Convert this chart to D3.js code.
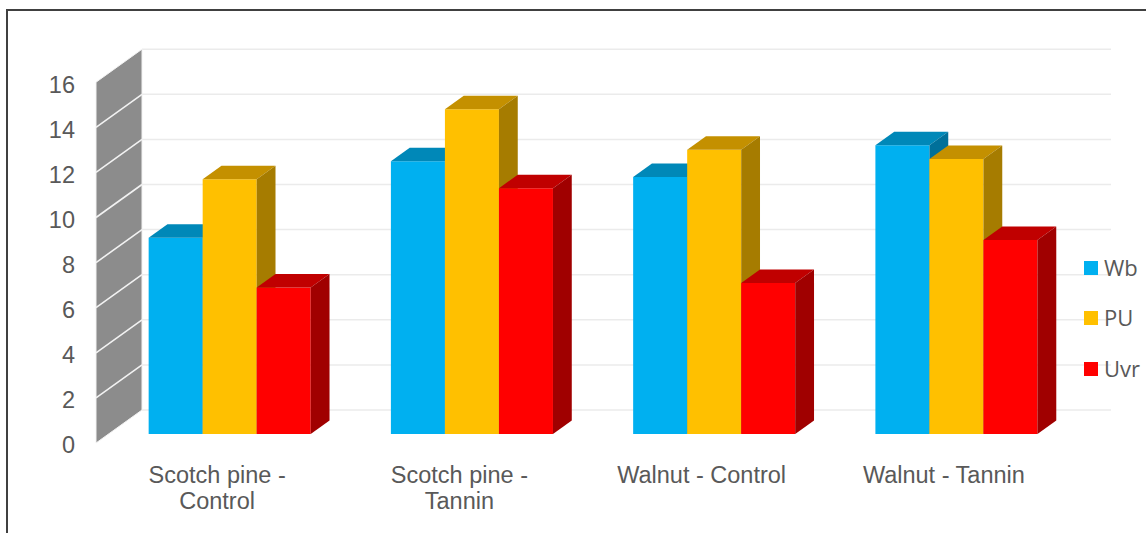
<!DOCTYPE html>
<html>
<head>
<meta charset="utf-8">
<script src="https://cdn.jsdelivr.net/npm/d3@7"></script>
<style>
  html, body { margin: 0; padding: 0; background: #ffffff; }
  svg { display: block; }
</style>
</head>
<body>
<svg id="chart" width="1146" height="533"></svg>
<script>
// Chart data
const categories = ["Scotch pine - Control", "Scotch pine - Tannin", "Walnut - Control", "Walnut - Tannin"];
const seriesNames = ["Wb", "PU", "Uvr"];
const wbValues  = [8.7, 12.1, 11.4, 12.8];
const puValues  = [11.3, 14.4, 12.6, 12.2];
const uvrValues = [6.5, 10.9, 6.7, 8.6];
const yTicks = [0, 2, 4, 6, 8, 10, 12, 14, 16];

const seriesValues = [wbValues, puValues, uvrValues];

// Face colours per series: front, top, side
const palette = [
  { front: "#00B0F0", top: "#0088B8", side: "#00709A" },
  { front: "#FFC000", top: "#C49000", side: "#A67C00" },
  { front: "#FF0000", top: "#C00000", side: "#A00000" }
];

const svg = d3.select("#chart");

// Outer frame
svg.append("rect")
  .attr("x", 7).attr("y", 10)
  .attr("width", 1200).attr("height", 600)
  .attr("fill", "none")
  .attr("stroke", "#404040")
  .attr("stroke-width", 2);

// Oblique projection: front plane + depth offset
const DX = 46, DY = 33;          // full depth of the plot box
const barD0 = 0.273, barD1 = 0.682; // bar depth span (fraction of box depth)

const x0 = d3.scaleBand()
  .domain(categories)
  .range([96, 1065])
  .paddingInner(0.331)
  .paddingOuter(0.1655);

const x1 = d3.scaleBand()
  .domain(seriesNames)
  .range([0, x0.bandwidth()]);

const y = d3.scaleLinear()
  .domain([0, 16])
  .range([443, 82.2]);

const proj = (xf, v, d) => [xf + d * DX, y(v) - d * DY];
const poly = pts => "M" + pts.map(p => p.join(",")).join("L") + "Z";

// Back wall gridlines
const grid = svg.append("g");
yTicks.forEach(t => {
  const a = proj(96, t, 1);
  grid.append("line")
    .attr("x1", a[0]).attr("y1", a[1])
    .attr("x2", 1065 + DX).attr("y2", a[1])
    .attr("stroke", "#EBEBEB")
    .attr("stroke-width", 1.5);
});

// Side wall (value axis)
const wall = svg.append("g");
wall.append("path")
  .attr("d", poly([proj(96, 0, 0), proj(96, 16, 0), proj(96, 16, 1), proj(96, 0, 1)]))
  .attr("fill", "#8C8C8C")
  .attr("stroke", "#F2F2F2")
  .attr("stroke-width", 1);
yTicks.slice(1, -1).forEach(t => {
  const a = proj(96, t, 0), b = proj(96, t, 1);
  wall.append("line")
    .attr("x1", a[0]).attr("y1", a[1])
    .attr("x2", b[0]).attr("y2", b[1])
    .attr("stroke", "#F2F2F2")
    .attr("stroke-width", 1.6);
});

// Value axis labels
const yAxis = d3.axisLeft(y).tickValues(yTicks).tickSize(0).tickPadding(21);
const yg = svg.append("g").attr("transform", "translate(96,0)").call(yAxis);
yg.select(".domain").remove();
yg.selectAll("text")
  .attr("dy", "0.42em")
  .attr("fill", "#595959")
  .style("font-family", "'Liberation Sans', Arial, sans-serif")
  .style("font-size", "23.5px");

// Bars, drawn left to right so nearer faces overlap correctly
const bars = svg.append("g");
categories.forEach((cat, ci) => {
  seriesNames.forEach((s, si) => {
    const v = seriesValues[si][ci];
    const xl = x0(cat) + x1(s);
    const xr = xl + x1.bandwidth();
    const c = palette[si];
    const g = bars.append("g");
    // front
    g.append("path")
      .attr("d", poly([proj(xl, 0, barD0), proj(xr, 0, barD0), proj(xr, v, barD0), proj(xl, v, barD0)]))
      .attr("fill", c.front);
    // top
    g.append("path")
      .attr("d", poly([proj(xl, v, barD0), proj(xr, v, barD0), proj(xr, v, barD1), proj(xl, v, barD1)]))
      .attr("fill", c.top);
    // right side
    g.append("path")
      .attr("d", poly([proj(xr, 0, barD0), proj(xr, v, barD0), proj(xr, v, barD1), proj(xr, 0, barD1)]))
      .attr("fill", c.side);
  });
});

// Category labels, wrapped to fit the band
const catG = svg.append("g")
  .style("font-family", "'Liberation Sans', Arial, sans-serif")
  .style("font-size", "23.5px")
  .attr("fill", "#595959");
categories.forEach(cat => {
  const cx = x0(cat) + x0.bandwidth() / 2;
  const text = catG.append("text")
    .attr("x", cx).attr("y", 483)
    .attr("text-anchor", "middle");
  const words = cat.split(" ");
  let line = [];
  let tspan = text.append("tspan").attr("x", cx).attr("dy", 0);
  words.forEach(w => {
    line.push(w);
    tspan.text(line.join(" "));
    if (tspan.node().getComputedTextLength() > 205 && line.length > 1) {
      line.pop();
      tspan.text(line.join(" "));
      line = [w];
      tspan = text.append("tspan").attr("x", cx).attr("dy", 26).text(w);
    }
  });
});

// Legend
const legend = svg.append("g")
  .style("font-family", "'Open Sans', 'Noto Sans', sans-serif")
  .style("font-size", "22px");
const legendY = [268, 318, 369];
seriesNames.forEach((s, i) => {
  legend.append("rect")
    .attr("x", 1084).attr("y", legendY[i] - 7)
    .attr("width", 14).attr("height", 14)
    .attr("fill", palette[i].front);
  legend.append("text")
    .attr("x", 1104).attr("y", legendY[i])
    .attr("dy", "0.35em")
    .attr("fill", "#595959")
    .text(s);
});
</script>
</body>
</html>
